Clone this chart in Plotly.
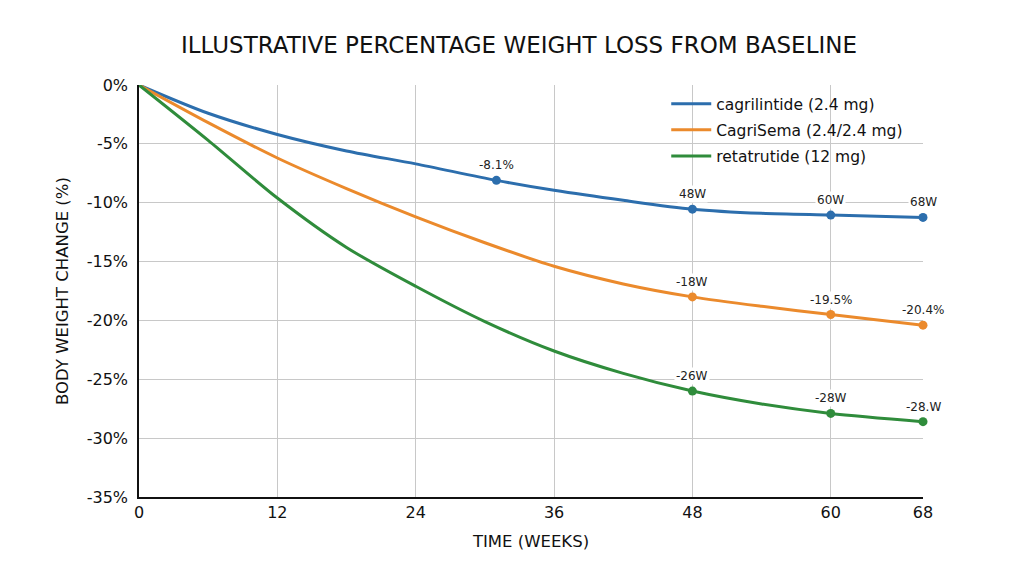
import plotly.graph_objects as go

# weeks and % body weight change
weeks_cagri = [0, 6, 12, 18, 24, 31, 36, 42, 48, 54, 60, 68]
cagri = [0, -2.4, -4.2, -5.6, -6.7, -8.1, -8.95, -9.8, -10.55, -10.9, -11.05, -11.25]

weeks = [0, 6, 12, 18, 24, 30, 36, 42, 48, 54, 60, 68]
cagrisema = [0, -3.2, -6.2, -8.8, -11.2, -13.4, -15.4, -16.9, -18.0, -18.8, -19.5, -20.4]
retatrutide = [0, -4.7, -9.6, -13.8, -17.1, -20.1, -22.6, -24.5, -26.0, -27.1, -27.9, -28.6]

# marked points and their labels
cagri_mark_weeks = [31, 48, 60, 68]
cagri_mark_vals = [-8.1, -10.55, -11.05, -11.25]
cagri_labels = ["-8.1%", "48W", "60W", "68W"]

sema_mark_weeks = [48, 60, 68]
sema_mark_vals = [-18.0, -19.5, -20.4]
sema_labels = ["-18W", "-19.5%", "-20.4%"]

reta_mark_weeks = [48, 60, 68]
reta_mark_vals = [-26.0, -27.9, -28.6]
reta_labels = ["-26W", "-28W", "-28.W"]

x_ticks = [0, 12, 24, 36, 48, 60, 68]
y_ticks = [0, -5, -10, -15, -20, -25, -30, -35]

series = [
    ("cagrilintide (2.4 mg)", "#2c6ead", weeks_cagri, cagri,
     cagri_mark_weeks, cagri_mark_vals, cagri_labels),
    ("CagriSema (2.4/2.4 mg)", "#eb8a2c", weeks, cagrisema,
     sema_mark_weeks, sema_mark_vals, sema_labels),
    ("retatrutide (12 mg)", "#2f8c3b", weeks, retatrutide,
     reta_mark_weeks, reta_mark_vals, reta_labels),
]

FONT = "DejaVu Sans"

fig = go.Figure()
annotations = []
for name, color, xs, ys, mx, my, labels in series:
    fig.add_trace(go.Scatter(x=xs, y=ys, mode="lines", name=name, legendgroup=name,
                             line=dict(color=color, width=3, shape="spline", smoothing=0.8),
                             cliponaxis=False))
    fig.add_trace(go.Scatter(x=mx, y=my, mode="markers", showlegend=False, legendgroup=name,
                             marker=dict(color=color, size=9), cliponaxis=False))
    for xv, yv, t in zip(mx, my, labels):
        annotations.append(dict(x=xv, y=yv, text=t, showarrow=False, yshift=15,
                                bgcolor="white", borderpad=1,
                                font=dict(family=FONT, size=12, color="#222")))

fig.update_layout(
    width=1024, height=572,
    template="plotly_white",
    paper_bgcolor="white", plot_bgcolor="white",
    margin=dict(l=131, r=109, t=77, b=83),
    title=dict(text="ILLUSTRATIVE PERCENTAGE WEIGHT LOSS FROM BASELINE",
               x=0.499, xanchor="center", y=0.935, yanchor="middle",
               font=dict(family=FONT, size=23, color="#111")),
    font=dict(family=FONT, size=15, color="#111"),
    showlegend=True,
    legend=dict(x=0.6725, y=0.995, xanchor="left", yanchor="top",
                bgcolor="rgba(0,0,0,0)", font=dict(family=FONT, size=15.5, color="#111"),
                tracegroupgap=3, itemwidth=40),
    annotations=annotations,
)

fig.update_xaxes(range=[0, 68], tickvals=x_ticks, ticktext=[str(v) for v in x_ticks],
                 showgrid=True, gridcolor="#c8c8c8", gridwidth=1,
                 showline=True, linecolor="#111", linewidth=1.5, zeroline=False,
                 ticks="", ticklen=0,
                 title=dict(text="TIME (WEEKS)", font=dict(family=FONT, size=16.5), standoff=14),
                 tickfont=dict(family=FONT, size=16))
fig.update_yaxes(range=[-35, 0], tickvals=y_ticks, ticktext=[f"{v}%" for v in y_ticks],
                 showgrid=True, gridcolor="#c8c8c8", gridwidth=1,
                 showline=True, linecolor="#111", linewidth=1.5, zeroline=False,
                 ticks="", ticklen=0, ticklabelstandoff=6,
                 title=dict(text="BODY WEIGHT CHANGE (%)", font=dict(family=FONT, size=16.5), standoff=14),
                 tickfont=dict(family=FONT, size=16))

fig.write_html("out.html")
